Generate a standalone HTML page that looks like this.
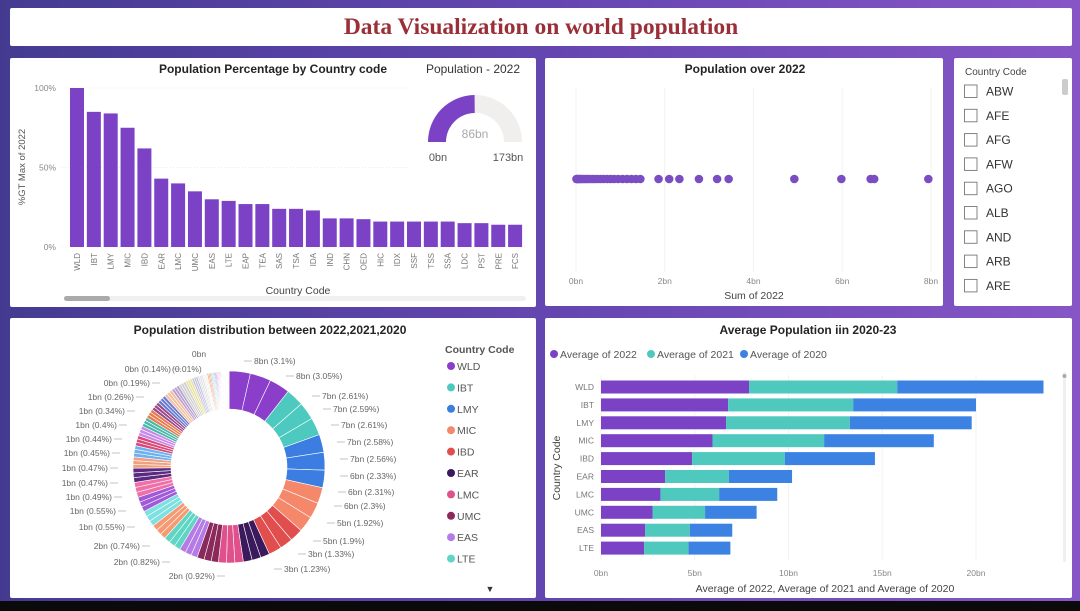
<!DOCTYPE html>
<html><head><meta charset="utf-8"><style>
html,body{margin:0;padding:0;width:1080px;height:611px;overflow:hidden;background:#000}
svg{display:block}
text{font-family:"Liberation Sans",sans-serif}
</style></head><body>
<svg id="s" width="1080" height="611" viewBox="0 0 1080 611" xmlns="http://www.w3.org/2000/svg">
<defs>
<linearGradient id="bg" x1="0" y1="0" x2="1" y2="0">
<stop offset="0" stop-color="#443b91"/><stop offset="0.5" stop-color="#6446b0"/><stop offset="1" stop-color="#8756c6"/>
</linearGradient>
</defs>
<rect x="0" y="0" width="1080" height="601" fill="url(#bg)"/>
<rect x="0" y="601" width="1080" height="10" fill="#0a0a0a"/>
<rect x="10" y="8" width="1062" height="38" rx="2" fill="#fff"/>
<text x="541" y="34" text-anchor="middle" font-weight="bold" font-size="23.5" fill="#9b2f38" style="font-family:'Liberation Serif',serif">Data Visualization on world population</text>

<rect x="10" y="58" width="526" height="249" rx="2" fill="#fff"/>
<rect x="545" y="58" width="398" height="248" rx="2" fill="#fff"/>
<rect x="954" y="58" width="118" height="248" rx="2" fill="#fff"/>
<rect x="10" y="318" width="526" height="280" rx="2" fill="#fff"/>
<rect x="545" y="318" width="527" height="280" rx="2" fill="#fff"/>

<g id="barChart"></g>
<g id="gauge"></g>
<g id="scatter"></g>
<g id="slicer"></g>
<g id="donut"></g>
<g id="hbar"></g>
</svg>
<script>
// ---- bar chart data
const barCats=["WLD","IBT","LMY","MIC","IBD","EAR","LMC","UMC","EAS","LTE","EAP","TEA","SAS","TSA","IDA","IND","CHN","OED","HIC","IDX","SSF","TSS","SSA","LDC","PST","PRE","FCS"];
const barVals=[100,85,84,75,62,43,40,35,30,29,27,27,24,24,23,18,18,17.5,16,16,16,16,16,15,15,14,14];
const barTicks=[0,50,100];
// ---- gauge
const gaugeValue=86, gaugeMax=173;
// ---- scatter
const scatterVals=[0.01,0.02,0.04,0.06,0.08,0.1,0.13,0.16,0.2,0.24,0.28,0.32,0.37,0.42,0.48,0.55,0.62,0.7,0.78,0.86,0.95,1.05,1.15,1.25,1.35,1.45,1.86,2.1,2.33,2.77,3.18,3.44,4.92,5.98,6.64,6.72,7.94];
const scatterTicks=[0,2,4,6,8];
// ---- slicer
const slicerItems=["ABW","AFE","AFG","AFW","AGO","ALB","AND","ARB","ARE"];
// ---- donut
const donutCountries=["WLD","IBT","LMY","MIC","IBD","EAR","LMC","UMC","EAS","LTE"];
const donutVals=[3.1,3.05,3.0, 2.61,2.59,2.55, 2.61,2.58,2.56, 2.33,2.31,2.3, 1.92,1.9,1.88, 1.33,1.3,1.28, 1.23,1.2,1.18, 1.05,1.05,1.04, 0.92,0.92,0.91, 0.9,0.9,0.89,
 0.82,0.82,0.81, 0.82,0.81,0.8, 0.74,0.74,0.73, 0.74,0.73,0.72, 0.7,0.69,0.68, 0.55,0.55,0.54, 0.55,0.55,0.54, 0.5,0.5,0.49, 0.49,0.49,0.48, 0.47,0.47,0.46, 0.47,0.46,0.46, 0.45,0.45,0.44, 0.45,0.44,0.44, 0.44,0.43,0.43, 0.4,0.4,0.39, 0.38,0.37,0.37, 0.34,0.34,0.33, 0.3,0.3,0.29, 0.26,0.26,0.25, 0.22,0.22,0.21, 0.19,0.19,0.18, 0.16,0.16,0.15, 0.14,0.14,0.13, 0.12,0.12,0.11, 0.1,0.1,0.1, 0.09,0.09,0.08, 0.07,0.07,0.07, 0.06,0.06,0.06, 0.05,0.05,0.05, 0.04,0.04,0.04, 0.03,0.03,0.03, 0.02,0.02,0.02, 0.01,0.01,0.01];
const donutLabelsR=["8bn (3.1%)","8bn (3.05%)","7bn (2.61%)","7bn (2.59%)","7bn (2.61%)","7bn (2.58%)","7bn (2.56%)","6bn (2.33%)","6bn (2.31%)","6bn (2.3%)","5bn (1.92%)","5bn (1.9%)","3bn (1.33%)","3bn (1.23%)"];
const donutLabelsL=["2bn (0.92%)","2bn (0.82%)","2bn (0.74%)","1bn (0.55%)","1bn (0.55%)","1bn (0.49%)","1bn (0.47%)","1bn (0.47%)","1bn (0.45%)","1bn (0.44%)","1bn (0.4%)","1bn (0.34%)","1bn (0.26%)","0bn (0.19%)","0bn (0.14%)"];
// ---- stacked hbar
const hCats=["WLD","IBT","LMY","MIC","IBD","EAR","LMC","UMC","EAS","LTE"];
const h2022=[7.9,6.78,6.67,5.95,4.86,3.42,3.17,2.75,2.36,2.3];
const h2021=[7.9,6.67,6.6,5.95,4.95,3.4,3.13,2.8,2.38,2.37];
const h2020=[7.8,6.55,6.5,5.85,4.8,3.37,3.1,2.75,2.26,2.23];
const hTicks=[0,5,10,15,20];
const hSeries=["Average of 2022","Average of 2021","Average of 2020"];

const NS="http://www.w3.org/2000/svg";
function mk(parent,tag,attrs,txt){const e=document.createElementNS(NS,tag);for(const k in attrs)e.setAttribute(k,attrs[k]);if(txt!==undefined)e.textContent=txt;parent.appendChild(e);return e;}
const PURPLE="#7b42c6",TEAL="#4fc8bd",BLUE="#3c82e3";

// ===== bar chart
(function(){
const g=document.getElementById('barChart');
const x0=70,step=16.85,bw=14,y0=247,y100=88;
const y=v=>y0-(v/100)*(y0-y100);
let t=mk(g,'text',{x:273,y:73,'text-anchor':'middle','font-size':12,'font-weight':'bold',fill:'#252423'},'Population Percentage by Country code');

barTicks.forEach(v=>{
 let l=mk(g,'line',{x1:62,x2:525,y1:y(v),y2:y(v),stroke:'#eee','stroke-width':1,'stroke-dasharray':'1,2'});
 
 let tt=mk(g,'text',{x:56,y:y(v)+3,'text-anchor':'end','font-size':8.5,fill:'#888'},v+'%');
 
});
barCats.forEach((c,i)=>{
 const bx=x0+i*step;
 let r=mk(g,'rect',{x:bx,y:y(barVals[i]),width:bw,height:y0-y(barVals[i]),fill:PURPLE});
 
 let tt=mk(g,'text',{x:0,y:0,'text-anchor':'end','font-size':8,fill:'#777',transform:`translate(${bx+bw/2+3},${y0+6}) rotate(-90)`},c);
 
});
t=mk(g,'text',{x:0,y:0,'text-anchor':'middle','font-size':9.5,fill:'#555',transform:'translate(25,167) rotate(-90)'},'%GT Max of 2022');

t=mk(g,'text',{x:298,y:294,'text-anchor':'middle','font-size':10.5,fill:'#444'},'Country Code');

let s=mk(g,'rect',{x:64,y:296,width:462,height:5,rx:2.5,fill:'#f0f0f0'});

s=mk(g,'rect',{x:64,y:296,width:46,height:5,rx:2.5,fill:'#aaa'});

})();

// ===== gauge
(function(){
const g=document.getElementById('gauge');
const cx=475,cy=142,ro=47,ri=29;
let bg=mk(g,'rect',{x:410,y:76,width:124,height:96,fill:'#fff'});

let t=mk(g,'text',{x:473,y:73,'text-anchor':'middle','font-size':12,fill:'#333'},'Population - 2022');

function arc(a0,a1){
 const p=(r,a)=>[cx+r*Math.cos(a),cy-r*Math.sin(a)];
 const [x1,y1]=p(ro,a0),[x2,y2]=p(ro,a1),[x3,y3]=p(ri,a1),[x4,y4]=p(ri,a0);
 return `M${x1},${y1}A${ro},${ro} 0 0 1 ${x2},${y2}L${x3},${y3}A${ri},${ri} 0 0 0 ${x4},${y4}Z`;}
const frac=gaugeValue/gaugeMax;
let p=mk(g,'path',{d:arc(Math.PI,0),fill:'#f1efee'});

p=mk(g,'path',{d:arc(Math.PI,Math.PI*(1-frac)),fill:PURPLE});

t=mk(g,'text',{x:cx,y:138,'text-anchor':'middle','font-size':12,fill:'#aaa'},gaugeValue+'bn');

t=mk(g,'text',{x:438,y:161,'text-anchor':'middle','font-size':11,fill:'#555'},'0bn');

t=mk(g,'text',{x:508,y:161,'text-anchor':'middle','font-size':11,fill:'#555'},gaugeMax+'bn');

})();

// ===== scatter
(function(){
const g=document.getElementById('scatter');
const x=v=>576+v*(931-576)/8;
let t=mk(g,'text',{x:745,y:73,'text-anchor':'middle','font-size':12,'font-weight':'bold',fill:'#252423'},'Population over 2022');

scatterTicks.forEach(v=>{
 let l=mk(g,'line',{x1:x(v),x2:x(v),y1:88,y2:272,stroke:'#f2f2f2','stroke-width':1});
 
 let tt=mk(g,'text',{x:x(v),y:284,'text-anchor':'middle','font-size':8.5,fill:'#888'},v+'bn');
 
});
scatterVals.forEach(v=>{
 let c=mk(g,'circle',{cx:x(v),cy:179,r:4.3,fill:'#7a4ec2'});
 
});
t=mk(g,'text',{x:754,y:299,'text-anchor':'middle','font-size':10.5,fill:'#444'},'Sum of 2022');

})();

// ===== slicer
(function(){
const g=document.getElementById('slicer');
let t=mk(g,'text',{x:965,y:75,'font-size':10,fill:'#444'},'Country Code');

slicerItems.forEach((c,i)=>{
 const yy=91+i*24.3;
 let b=mk(g,'rect',{x:964.5,y:yy-6,width:12.5,height:12.5,fill:'#fff',stroke:'#777','stroke-width':0.9});
 
 let tt=mk(g,'text',{x:986,y:yy+4.5,'font-size':12,fill:'#333'},c);
 
});
let s=mk(g,'rect',{x:1062,y:79,width:6,height:16,rx:2,fill:'#ccc'});

})();

// ===== donut
(function(){
const g=document.getElementById('donut');
const cx=229,cy=467,ro=96,ri=58;
const base=["#8a3ec9","#4ec9c0","#3b7de0","#f5876a","#e04e4e","#3a1a5c","#e0508a","#8a2a5a","#b57be6","#5fd6c4"];
const extra=["#f59a72","#7ee0e0","#a05ad8","#ef6fa8","#5b2a80","#f0a080","#6fb0f0","#d94a7a","#c88ae8","#48b8a8","#e87a50","#9a4a8a","#6a7ad0","#f2c0a0","#b8a0d0","#d0d0d0","#e8e0a0","#c0c0e0","#e0e0e0","#f0f0f0"];
const total=donutVals.reduce((a,b)=>a+b,0);
let t=mk(g,'text',{x:270,y:334,'text-anchor':'middle','font-size':12,'font-weight':'bold',fill:'#252423'},'Population distribution between 2022,2021,2020');

let a=0;
donutVals.forEach((v,i)=>{
 const ci=Math.floor(i/3);
 const col=ci<base.length?base[ci]:extra[(ci-base.length)%extra.length];
 const a0=a/total*2*Math.PI,a1=(a+v)/total*2*Math.PI;a+=v;
 const p=(r,ang)=>[cx+r*Math.sin(ang),cy-r*Math.cos(ang)];
 const [x1,y1]=p(ro,a0),[x2,y2]=p(ro,a1),[x3,y3]=p(ri,a1),[x4,y4]=p(ri,a0);
 const lg=(a1-a0)>Math.PI?1:0;
 let s=mk(g,'path',{d:`M${x1},${y1}A${ro},${ro} 0 ${lg} 1 ${x2},${y2}L${x3},${y3}A${ri},${ri} 0 ${lg} 0 ${x4},${y4}Z`,fill:col,stroke:'#fff','stroke-width':0.6});
 
});
const rpos=[[254,364],[296,379],[322,399],[333,412],[341,428],[347,445],[350,462],[350,479],[348,495],[344,509],[337,526],[323,544],[308,557],[284,572]];
donutLabelsR.forEach((s,i)=>{
 const [lx,ly]=rpos[i];
 let l=mk(g,'line',{x1:lx-10,x2:lx-2,y1:ly-3,y2:ly-3,stroke:'#aaa','stroke-width':0.7});
 
 let tt=mk(g,'text',{x:lx,y:ly,'font-size':8.5,fill:'#666'},s);
 
});
const lpos=[[215,579],[160,565],[140,549],[125,530],[116,514],[112,500],[108,486],[108,471],[110,456],[112,442],[117,428],[125,414],[134,400],[150,386],[171,372]];
donutLabelsL.forEach((s,i)=>{
 const [lx,ly]=lpos[i];
 let l=mk(g,'line',{x1:lx+2,x2:lx+10,y1:ly-3,y2:ly-3,stroke:'#aaa','stroke-width':0.7});
 
 let tt=mk(g,'text',{x:lx,y:ly,'text-anchor':'end','font-size':8.5,fill:'#666'},s);
 
});
t=mk(g,'text',{x:172,y:372,'font-size':8.5,fill:'#666'},'(0.01%)');

t=mk(g,'text',{x:199,y:357,'text-anchor':'middle','font-size':8.5,fill:'#666'},'0bn');

t=mk(g,'text',{x:445,y:353,'font-size':10.5,'font-weight':'bold',fill:'#555'},'Country Code');

donutCountries.forEach((c,i)=>{
 const yy=366+i*21.4;
 let d=mk(g,'circle',{cx:451,cy:yy,r:4,fill:base[i]});
 
 let tt=mk(g,'text',{x:457,y:yy+4,'font-size':10.5,fill:'#555'},c);
 
});
t=mk(g,'text',{x:490,y:592,'text-anchor':'middle','font-size':9,fill:'#333'},'▼');

})();

// ===== stacked hbar
(function(){
const g=document.getElementById('hbar');
const x=v=>601+v*(976-601)/20;
const rowY=i=>387+i*17.9, bh=13;
let t=mk(g,'text',{x:808,y:334,'text-anchor':'middle','font-size':12,'font-weight':'bold',fill:'#252423'},'Average Population iin 2020-23');

const cols=[PURPLE,TEAL,BLUE];const lx=[554,651,744];
hSeries.forEach((s,i)=>{
 let d=mk(g,'circle',{cx:lx[i],cy:354,r:4,fill:cols[i]});
 
 let tt=mk(g,'text',{x:lx[i]+6,y:358,'font-size':10.5,fill:'#555'},s);
 
});
hTicks.forEach(v=>{
 let l=mk(g,'line',{x1:x(v),x2:x(v),y1:375,y2:560,stroke:'#f2f2f2','stroke-width':1});
 
 let tt=mk(g,'text',{x:x(v),y:576,'text-anchor':'middle','font-size':8.5,fill:'#888'},v+'bn');
 
});
hCats.forEach((c,i)=>{
 const yy=rowY(i)-bh/2;
 const vals=[h2022[i],h2021[i],h2020[i]];let acc=0;
 vals.forEach((v,j)=>{
  let r=mk(g,'rect',{x:x(acc),y:yy,width:x(acc+v)-x(acc),height:bh,fill:cols[j]});
  
  acc+=v;
 });
 let tt=mk(g,'text',{x:594,y:rowY(i)+3,'text-anchor':'end','font-size':8.5,fill:'#777'},c);
 
});
t=mk(g,'text',{x:0,y:0,'text-anchor':'middle','font-size':10.5,fill:'#444',transform:'translate(560,468) rotate(-90)'},'Country Code');

t=mk(g,'text',{x:825,y:592,'text-anchor':'middle','font-size':10.5,fill:'#444'},'Average of 2022, Average of 2021 and Average of 2020');

let s=mk(g,'rect',{x:1063,y:372,width:3,height:190,rx:1.5,fill:'#f0f0f0'});

s=mk(g,'circle',{cx:1064.5,cy:376,r:2,fill:'#aaa'});

})();
</script>
</body></html>
